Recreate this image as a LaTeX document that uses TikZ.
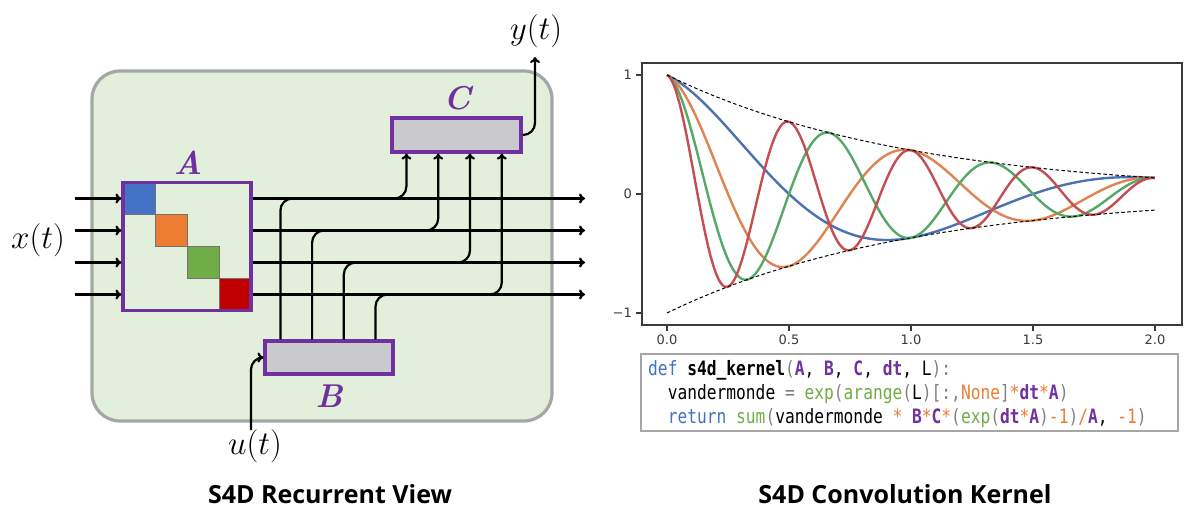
\documentclass[tikz,border=0pt]{standalone}
\usepackage{fontspec}
\usetikzlibrary{arrows.meta}
\newfontfamily\codefont{DejaVu Sans Mono}[FakeStretch=0.82]
\newfontfamily\tickfont{DejaVu Sans}
\newfontfamily\titlefont{Open Sans}
\definecolor{bgreen}{HTML}{E2EFDA}
\definecolor{bgray}{HTML}{A6A6A6}
\definecolor{purp}{HTML}{7030A0}
\definecolor{boxgray}{HTML}{C9C9CE}
\definecolor{sqblue}{HTML}{4472C4}
\definecolor{sqorange}{HTML}{ED7D31}
\definecolor{sqgreen}{HTML}{70AD47}
\definecolor{sqred}{HTML}{C00000}
\definecolor{sbA}{HTML}{4C72B0}
\definecolor{sbB}{HTML}{DD8452}
\definecolor{sbC}{HTML}{55A868}
\definecolor{sbD}{HTML}{C44E52}
\definecolor{axgray}{HTML}{3A3A3A}
\definecolor{cgray}{HTML}{808080}
\newcommand\ckw[1]{\textcolor{sqblue}{#1}}
\newcommand\cgn[1]{\textcolor{sqgreen}{#1}}
\newcommand\cog[1]{\textcolor{sqorange}{#1}}
\newcommand\cpp[1]{\textcolor{purp}{\bfseries #1}}
\newcommand\cpc[1]{\textcolor{cgray}{#1}}
\begin{document}
\begin{tikzpicture}[x=1pt,y=-1pt,
  panel/.style={draw=bgray, fill=bgreen, line width=3.2pt, rounded corners=28pt, inner sep=0pt},
  mat/.style={draw=purp, line width=3.2pt, inner sep=0pt},
  gbox/.style={draw=purp, fill=boxgray, line width=3.2pt, inner sep=0pt},
  sq/.style={draw=black!55, line width=0.7pt},
  conn/.style={line width=2.3pt, -{To[length=6pt,width=10pt]}},
  wire/.style={line width=2.2pt, rounded corners=12pt, -{To[length=6pt,width=10pt]}},
  mlab/.style={inner sep=0pt, scale=1.6, font=\fontsize{20}{24}\selectfont},
  blab/.style={inner sep=0pt, text=purp, font=\fontsize{33}{38}\selectfont\bfseries\itshape},
  ttl/.style={inner sep=0pt, font=\fontsize{25}{30}\selectfont\titlefont\bfseries},
  tick/.style={inner sep=0pt, text=axgray, font=\fontsize{13}{15}\selectfont\tickfont},
  code/.style={inner sep=0pt, anchor=base west, font=\fontsize{19.8}{24}\selectfont\codefont},
  curve/.style={line width=2.4pt, line join=round}
]
\useasboundingbox (0,0) rectangle (1193,513);
\fill[white] (0,0) rectangle (1193,513);

% ---------- left: recurrent view ----------
\node[panel, minimum width=460pt, minimum height=350pt] (panel) at (322,246) {};

\fill[sqblue,sq]   (123,182.5) rectangle +(32,32);
\fill[sqorange,sq] (155,214.5) rectangle +(32,32);
\fill[sqgreen,sq]  (187,246.5) rectangle +(32,32);
\fill[sqred,sq]    (219,278.5) rectangle +(32,32);
\node[mat, minimum width=128pt, minimum height=128pt] (A) at (187,246.5) {};
\node[blab] (Alab) at (188,163) {A};

\node[gbox, minimum width=128pt, minimum height=33pt] (B) at (329,357.5) {};
\node[blab] (Blab) at (329,396) {B};
\node[gbox, minimum width=129pt, minimum height=34pt] (C) at (456.5,135) {};
\node[blab] (Clab) at (457,98.5) {C};

\coordinate (in1) at (75,198.5);
\coordinate (in2) at (75,230.5);
\coordinate (in3) at (75,262.5);
\coordinate (in4) at (75,294.5);
\coordinate (out1) at (585,198.5);
\coordinate (out2) at (585,230.5);
\coordinate (out3) at (585,262.5);
\coordinate (out4) at (585,294.5);
\foreach \i in {1,2,3,4}{
  \draw[conn] (in\i) -- (in\i -| A.west);
  \draw[conn] (A.east |- in\i) -- (out\i);
}

\path (B.north west) ++(17,0) coordinate (b1) ++(31.7,0) coordinate (b2)
      ++(31.7,0) coordinate (b3) ++(31.7,0) coordinate (b4);
\path (C.south west) ++(16,0) coordinate (c1) ++(31.8,0) coordinate (c2)
      ++(31.8,0) coordinate (c3) ++(31.8,0) coordinate (c4);
\foreach \i in {1,2,3,4}{
  \draw[wire] (b\i) |- (c\i |- in\i) -- (c\i);
}

\coordinate (yout) at (535,57);
\draw[wire] (C.east) -| (yout);
\node[mlab] (ylab) at (536,31) {$y(t)$};

\coordinate (uin) at (251,430);
\draw[wire] (uin) |- (B.west);
\node[mlab] (ulab) at (255,446) {$u(t)$};

\node[mlab] (xlab) at (38,240) {$x(t)$};

\node[ttl] (t1) at (330,494) {S4D Recurrent View};

% ---------- right: convolution kernel ----------
\draw[axgray, line width=1.5pt] (642,63) rectangle (1182,325);
\foreach \v/\l in {1/1,0/0,-1/−1}{
  \draw[axgray, line width=1.5pt] (642,194-119*\v) -- (636,194-119*\v);
  \node[tick, anchor=east] at (632,194-119*\v) {\l};
}
\foreach \v/\l in {0/0.0,0.5/0.5,1/1.0,1.5/1.5,2/2.0}{
  \draw[axgray, line width=1.5pt] (667+244*\v,325) -- (667+244*\v,331);
  \node[tick] at (667+244*\v,340) {\l};
}
\draw[curve, sbA] plot[domain=0:2, samples=200, variable=\t] ({667+244*\t},{194-119*exp(-\t)*cos(180*\t)});
\draw[curve, sbB] plot[domain=0:2, samples=250, variable=\t] ({667+244*\t},{194-119*exp(-\t)*cos(360*\t)});
\draw[curve, sbC] plot[domain=0:2, samples=300, variable=\t] ({667+244*\t},{194-119*exp(-\t)*cos(540*\t)});
\draw[curve, sbD] plot[domain=0:2, samples=350, variable=\t] ({667+244*\t},{194-119*exp(-\t)*cos(720*\t)});
\draw[black, line width=1pt, dash pattern=on 3.5pt off 2.5pt] plot[domain=0:2, samples=100, variable=\t] ({667+244*\t},{194-119*exp(-\t)});
\draw[black, line width=1pt, dash pattern=on 3.5pt off 2.5pt] plot[domain=0:2, samples=100, variable=\t] ({667+244*\t},{194+119*exp(-\t)});

\node[draw=bgray, line width=2.2pt, fill=white, minimum width=537pt, minimum height=77pt, inner sep=0pt] (codebox) at (909.5,392.5) {};
\node[code] (l1) at (648,375) {\ckw{def} \textbf{s4d\_kernel}\cpc{(}\cpp{A}, \cpp{B}, \cpp{C}, \cpp{dt}, L\cpc{):}};
\node[code] (l2) at (648,399) {~~vandermonde \cpc{=} \cgn{exp}\cpc{(}\cgn{arange}\cpc{(}L\cpc{)[:,}\cog{None}\cpc{]}\cog{*}\cpp{dt}\cog{*}\cpp{A}\cpc{)}};
\node[code] (l3) at (648,423) {~~\ckw{return} \cgn{sum}\cpc{(}vandermonde \cog{*} \cpp{B}\cog{*}\cpp{C}\cog{*}\cpc{(}\cgn{exp}\cpc{(}\cpp{dt}\cog{*}\cpp{A}\cpc{)}\cog{-1}\cpc{)}\cog{/}\cpp{A}, \cog{-1}\cpc{)}};

\node[ttl] (t2) at (905,494) {S4D Convolution Kernel};
\end{tikzpicture}
\end{document}
